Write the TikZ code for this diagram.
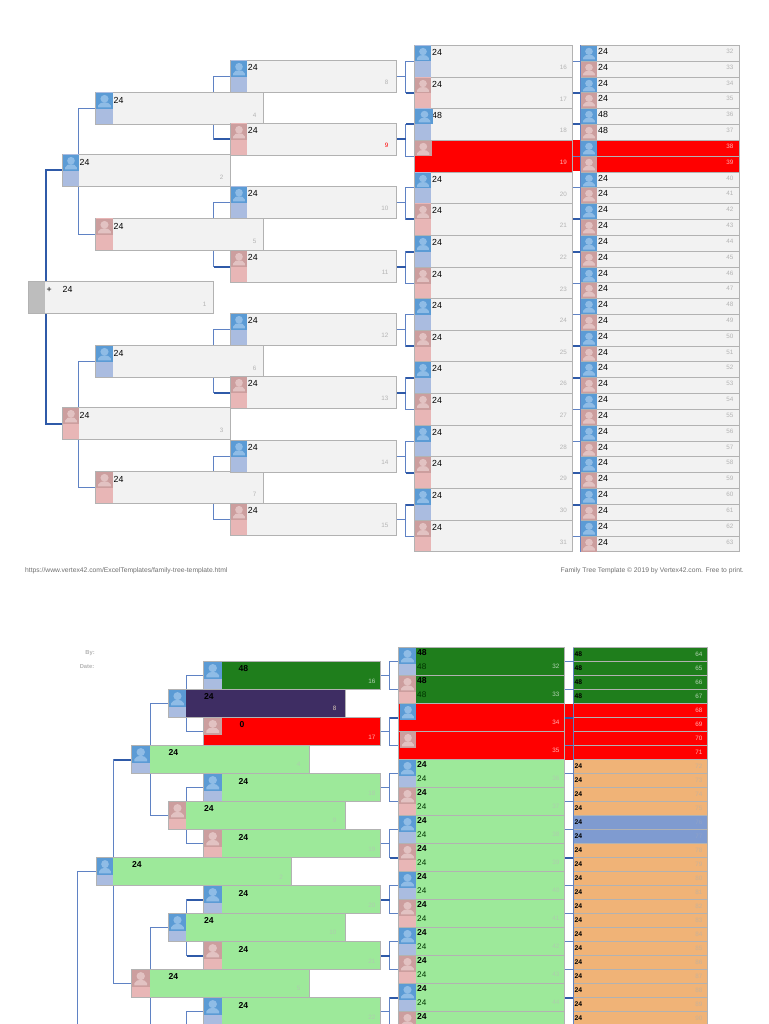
\documentclass[tikz,border=0pt]{standalone}
\usepackage{fontspec}
\setmainfont{Liberation Sans}
\usetikzlibrary{calc}
\pgfdeclarelayer{back}
\pgfsetlayers{back,main}
\definecolor{boxline}{HTML}{B2B2B2}
\definecolor{greypan}{HTML}{BDBDBD}
\definecolor{boxfill}{HTML}{F2F2F2}
\definecolor{mblue}{HTML}{5B9BD5}
\definecolor{mlite}{HTML}{8FBCE6}
\definecolor{mpanel}{HTML}{AABCE0}
\definecolor{fsq}{HTML}{CC9E9E}
\definecolor{flite}{HTML}{E2C2C2}
\definecolor{fpanel}{HTML}{E8B6B6}
\definecolor{lnthin}{HTML}{5F82C4}
\definecolor{lnthick}{HTML}{2F5AA8}
\definecolor{dgreen}{HTML}{1F7E1C}
\definecolor{lgreen}{HTML}{9DE99A}
\definecolor{purp}{HTML}{3E2D63}
\definecolor{orng}{HTML}{F0B377}
\definecolor{bluerow}{HTML}{7F9BD0}
\definecolor{numgrey}{HTML}{B4B4B4}
\definecolor{numgreen}{HTML}{B5D4B5}
\definecolor{numlg}{HTML}{AECDAE}
\definecolor{numred}{HTML}{FFB4B4}
\definecolor{numor}{HTML}{C9B298}
\definecolor{footg}{HTML}{707070}
\tikzset{
 pbx/.style={draw=boxline,line width=1pt,anchor=north west,inner sep=0pt,outer sep=0pt},
 conn/.style={draw=lnthin,line width=1pt},
 thk/.style={draw=lnthick,line width=2pt},
 namet/.style={anchor=west,inner sep=0pt,font=\fontsize{8.8}{9}\selectfont},
 nameb/.style={anchor=west,inner sep=0pt,font=\bfseries\fontsize{8.6}{9}\selectfont},
 namel/.style={anchor=west,inner sep=0pt,text=black!80!green,font=\fontsize{8.2}{9}\selectfont},
 names/.style={anchor=west,inner sep=0pt,font=\bfseries\fontsize{6.8}{7}\selectfont},
 numt/.style={anchor=east,inner sep=0pt,text=numgrey,font=\fontsize{6.3}{7}\selectfont},
 foot/.style={anchor=west,inner sep=0pt,text=footg,font=\fontsize{6.75}{7}\selectfont},
 hdr/.style={anchor=east,inner sep=0pt,text=numgrey,font=\bfseries\fontsize{5.8}{6}\selectfont},
}
\newcounter{lb}
\newcommand{\pbox}[6]{\pgfmathsetmacro\bw{#4-#2}\pgfmathsetmacro\bh{#5-#3}%
 \node[pbx,fill=#6,minimum width=\bw pt,minimum height=\bh pt] (#1) at (#2,#3) {};}
\newcommand{\pan}[5]{\fill[#5] (#1+0.5,#2) rectangle (#1+#3,#4);}
\newcommand{\avatar}[5]{\begin{scope}[shift={(#1,#2)},x=#3pt,y=-#4pt]
 \ifnum#5=0 \def\sqc{mblue}\def\lic{mlite}\else \def\sqc{fsq}\def\lic{flite}\fi
 \fill[\sqc] (0,0) rectangle (1,1);
 \fill[\lic] (0.5,0.36) circle [radius=0.24];
 \fill[\lic] (0.13,0.9) -- (0.13,0.78) .. controls (0.2,0.62) and (0.35,0.58) .. (0.5,0.58)
   .. controls (0.65,0.58) and (0.8,0.62) .. (0.87,0.78) -- (0.87,0.9) -- cycle;
 \end{scope}}
% name x1 y1 x2 y2 fill avw avh sex
\newcommand{\person}[9]{\pbox{#1}{#2}{#3}{#4}{#5}{#6}%
 \ifnum#9=0 \def\panc{mpanel}\else \def\panc{fpanel}\fi
 \pan{#2}{#3}{#7}{#5-0.5}{\panc}\avatar{#2+0.5}{#3+0.5}{#7-0.5}{#8}{#9}}
\newcommand{\lbl}[5]{\stepcounter{lb}\node[#4] (lb\arabic{lb}) at ($(#1.north west)+(#2,#3)$) {#5};}
\newcommand{\num}[5]{\stepcounter{lb}\node[numt,#4] (lb\arabic{lb}) at ($(#1.north east)+(-#2,#3)$) {#5};}
\begin{document}
\begin{tikzpicture}[x=1pt,y=-1pt]
\useasboundingbox (0,0) rectangle (768,1024);
\begin{pgfonlayer}{back}
\fill[white] (0,0) rectangle (768,1024);
\end{pgfonlayer}
\clip (0,0) rectangle (768,1024);

%%%%%%%%%%%%%% TOP TREE
% generation 1
\pbox{t1}{28.5}{281.5}{213.5}{313.5}{boxfill}
\fill[greypan] (29,282) rectangle (45,313);
\lbl{t1}{18}{8}{namet}{+}
\lbl{t1}{34}{8}{namet}{24}
\num{t1}{7}{23}{}{1}
% generation 2
\person{t2}{62.5}{154.5}{230.5}{186.5}{boxfill}{16.5}{16}{0}
\lbl{t2}{17}{8}{namet}{24}\num{t2}{7}{23}{}{2}
\person{t3}{62.5}{407.5}{230.5}{439.5}{boxfill}{16.5}{16}{1}
\lbl{t3}{17}{8}{namet}{24}\num{t3}{7}{23}{}{3}
% generation 3
\foreach \n/\yy/\sx in {4/92.5/0,5/218.5/1,6/345.5/0,7/471.5/1}{
 \pgfmathsetmacro\ye{\yy+32}
 \person{t\n}{95.5}{\yy}{263.5}{\ye}{boxfill}{17.5}{16}{\sx}
 \lbl{t\n}{18}{7.5}{namet}{24}\num{t\n}{7}{23}{}{\n}
}
% generation 4
\foreach \n/\yy/\sx in {8/60.5/0,9/123.5/1,10/186.5/0,11/250.5/1,12/313.5/0,13/376.5/1,14/440.5/0,15/503.5/1}{
 \pgfmathsetmacro\ye{\yy+32}
 \person{t\n}{230.5}{\yy}{396.5}{\ye}{boxfill}{16.5}{16}{\sx}
 \lbl{t\n}{17.2}{6.5}{namet}{24}
 \ifnum\n=9 \num{t\n}{8}{22}{text=red}{9}\else\num{t\n}{8}{22}{}{\n}\fi
}
% generation 5
\foreach \i in {0,...,15}{
 \pgfmathtruncatemacro\n{16+\i}\pgfmathsetmacro\yy{round(45+31.65*\i)+0.5}\pgfmathsetmacro\ye{round(45+31.65*(\i+1))+0.5}
 \pgfmathtruncatemacro\sx{mod(\n,2)}
 \ifnum\n=19
  \pbox{t\n}{414.5}{\yy}{572.5}{\ye}{red}\avatar{415}{141}{16.5}{15.5}{1}
  \num{t\n}{5.5}{22}{text=numred}{\n}
 \else
  \person{t\n}{414.5}{\yy}{572.5}{\ye}{boxfill}{16.5}{15.5}{\sx}
  \ifnum\n=18 \lbl{t\n}{17.5}{6.5}{namet}{48}\else\lbl{t\n}{17.5}{6.5}{namet}{24}\fi
  \num{t\n}{5.5}{22}{}{\n}
 \fi
}
\avatar{416.5}{109}{16}{15}{0}
% generation 6
\foreach \i in {0,...,31}{
 \pgfmathtruncatemacro\n{32+\i}\pgfmathsetmacro\yy{round(45+15.825*\i)+0.5}\pgfmathsetmacro\ye{round(45+15.825*(\i+1))+0.5}
 \pgfmathtruncatemacro\sx{mod(\n,2)}
 \ifnum\n=38 \def\fc{red}\else\ifnum\n=39 \def\fc{red}\else\def\fc{boxfill}\fi\fi
 \pbox{t\n}{580.5}{\yy}{739.5}{\ye}{\fc}
 \pgfmathsetmacro\ya{\yy+0.5}
 \avatar{581}{\ya}{16}{15}{\sx}
 \ifnum\n=38 \num{t\n}{6}{6}{text=numred}{\n}\else
 \ifnum\n=39 \num{t\n}{6}{6}{text=numred}{\n}\else
  \ifnum\n=36 \lbl{t\n}{17.5}{6}{namet}{48}\else
  \ifnum\n=37 \lbl{t\n}{17.5}{6}{namet}{48}\else
  \lbl{t\n}{17.5}{6}{namet}{24}\fi\fi
  \num{t\n}{6}{6}{}{\n}
 \fi\fi
}
% top gen6 spines on top of boxes
\foreach \n in {16,...,31}{
 \pgfmathtruncatemacro\ca{2*\n}\pgfmathtruncatemacro\cb{2*\n+1}
 \draw[conn] (t\ca.north west) -- (t\cb.south west);
}
\begin{pgfonlayer}{back}
\fill[red] (572,140) rectangle (581,171.5);
\foreach \n in {16,...,31}{
 \pgfmathtruncatemacro\ca{2*\n}
 \draw[conn] (t\n.east) -- (t\n.east -| t\ca.west);
}
\foreach \n in {8,...,15}{
 \pgfmathtruncatemacro\ca{2*\n}\pgfmathtruncatemacro\cb{2*\n+1}
 \draw[conn] (t\n.east) -- ++(9,0);
 \draw[conn] (t\ca.west) -- ++(-9,0) |- (t\cb.west);
}
\foreach \n in {4,...,7}{
 \pgfmathtruncatemacro\ca{2*\n}\pgfmathtruncatemacro\cb{2*\n+1}
 \draw[conn] (t\ca.west) -- ++(-17,0) |- (t\cb.west);
}
\foreach \n in {2,3}{
 \pgfmathtruncatemacro\ca{2*\n}\pgfmathtruncatemacro\cb{2*\n+1}
 \draw[conn] (t\ca.west) -- ++(-17,0) |- (t\cb.west);
}
\draw[thk] (t2.west) -- ++(-17,0) |- (t3.west);
\foreach \a in {t9,t11,t13}{\draw[thk] (\a.west) -- ++(-17,0);\draw[thk] (\a.east) -- ++(9,0);}
\foreach \a in {t17,t18,t21,t22,t25,t26,t29,t30}{\draw[thk] (\a.west) -- ++(-9,0);\draw[thk] (\a.east) -- ++(8,0);}
\end{pgfonlayer}
% footer
\node[foot] (urlfoot) at (25,570.5) {https://www.vertex42.com/ExcelTemplates/family-tree-template.html};
\node[foot,anchor=east] (copyfoot) at (744,570.5) {Family Tree Template © 2019 by Vertex42.com. Free to print.};

%%%%%%%%%%%%%% BOTTOM TREE
\node[hdr] (byl) at (95,653) {By:};
\node[hdr] (datel) at (94.5,667) {Date:};
% generation 2
\person{b2}{96.5}{857.5}{291.5}{885.5}{lgreen}{16.5}{17}{0}
\lbl{b2}{35.5}{7}{nameb}{24}\num{b2}{8.5}{20}{text=numlg}{2}
% generation 3
\person{b4}{131.5}{745.5}{309.5}{773.5}{lgreen}{18}{17}{0}
\lbl{b4}{37}{7}{nameb}{24}\num{b4}{9}{19}{text=numlg}{4}
\person{b5}{131.5}{969.5}{309.5}{997.5}{lgreen}{18}{17}{1}
\lbl{b5}{37}{7}{nameb}{24}\num{b5}{9}{19}{text=numlg}{5}
% generation 4
\person{b8}{168.5}{689.5}{345.5}{717.5}{purp}{17.5}{17}{0}
\lbl{b8}{35.5}{6.5}{nameb}{24}\num{b8}{9}{19}{text=numor!70!white}{8}
\person{b9}{168.5}{801.5}{345.5}{829.5}{lgreen}{17.5}{17}{1}
\lbl{b9}{35.5}{7}{nameb}{24}\num{b9}{9}{19}{text=numlg}{9}
\person{b10}{168.5}{913.5}{345.5}{941.5}{lgreen}{17.5}{17}{0}
\lbl{b10}{35.5}{7}{nameb}{24}\num{b10}{9}{19}{text=numlg}{10}
% generation 5
\person{b16}{203.5}{661.5}{380.5}{689.5}{dgreen}{18}{17}{0}
\lbl{b16}{35}{7}{nameb}{48}\num{b16}{5}{20}{text=numgreen}{16}
\pbox{b17}{203.5}{717.5}{380.5}{745.5}{red}\avatar{204}{718}{17.5}{16.5}{1}
\lbl{b17}{36}{7}{nameb}{0}\num{b17}{5}{20}{text=numred}{17}
\foreach \n/\yy/\sx in {18/773.5/0,19/829.5/1,20/885.5/0,21/941.5/1,22/997.5/0}{
 \pgfmathsetmacro\ye{\yy+28}
 \person{b\n}{203.5}{\yy}{380.5}{\ye}{lgreen}{18}{17}{\sx}
 \lbl{b\n}{35}{8}{nameb}{24}\num{b\n}{5}{20}{text=numlg}{\n}
}
% generation 6
\foreach \i in {0,...,13}{
 \pgfmathtruncatemacro\n{32+\i}\pgfmathsetmacro\yy{647.5+28*\i}\pgfmathsetmacro\ye{\yy+28}
 \pgfmathtruncatemacro\sx{mod(\n,2)}
 \ifnum\n<34
  \person{b\n}{398.5}{\yy}{564.5}{\ye}{dgreen}{17.5}{16}{\sx}
  \lbl{b\n}{18.5}{5}{nameb}{48}\lbl{b\n}{18.5}{19}{namel}{48}\num{b\n}{5}{19}{text=numgreen}{\n}
 \else\ifnum\n<36
  \pbox{b\n}{398.5}{\yy}{564.5}{\ye}{red}
  \pgfmathsetmacro\ya{\yy+0.5}\avatar{400}{\ya}{16}{16}{\sx}
  \num{b\n}{5}{19}{text=numred}{\n}
 \else
  \person{b\n}{398.5}{\yy}{564.5}{\ye}{lgreen}{17.5}{16}{\sx}
  \lbl{b\n}{18.5}{5}{nameb}{24}
  \ifnum\n<45 \lbl{b\n}{18.5}{19}{namel}{24}\num{b\n}{5}{19}{text=numlg}{\n}\fi
 \fi\fi
}
% generation 7
\foreach \i in {0,...,26}{
 \pgfmathtruncatemacro\n{64+\i}\pgfmathsetmacro\yy{647.5+14*\i}\pgfmathsetmacro\ye{\yy+14}
 \ifnum\n<68 \def\fc{dgreen}\def\nc{numgreen}\else
 \ifnum\n<72 \def\fc{red}\def\nc{numred}\else
 \ifnum\n=76 \def\fc{bluerow}\def\nc{bluerow!70!numgrey}\else
 \ifnum\n=77 \def\fc{bluerow}\def\nc{bluerow!70!numgrey}\else
 \def\fc{orng}\def\nc{numor}\fi\fi\fi\fi
 \pbox{b\n}{573.5}{\yy}{707.5}{\ye}{\fc}
 \ifnum\n<68 \lbl{b\n}{1}{6.5}{names}{48}\else
 \ifnum\n>71 \lbl{b\n}{1}{6.5}{names}{24}\fi\fi
 \num{b\n}{5}{6.5}{text=\nc}{\n}
}
\foreach \n in {32,...,44}{
 \pgfmathtruncatemacro\ca{2*\n}\pgfmathtruncatemacro\cb{2*\n+1}
 \draw[conn] (b\ca.north west) -- (b\cb.south west);
}
\draw[conn] (b90.north west) -- (b90.south west);
\coordinate (endA) at (77.5,1024);
\coordinate (endB) at (150.5,1024);
\coordinate (endC) at (186.5,1024);
\begin{pgfonlayer}{back}
\fill[red] (564,703.5) rectangle (574,759.5);
\foreach \n in {32,...,44}{
 \pgfmathtruncatemacro\ca{2*\n}
 \draw[conn] (b\n.east) -- (b\n.east -| b\ca.west);
}
\foreach \n in {16,...,21}{
 \pgfmathtruncatemacro\ca{2*\n}\pgfmathtruncatemacro\cb{2*\n+1}
 \draw[conn] (b\n.east) -- ++(9,0);
 \draw[conn] (b\ca.west) -- ++(-9,0) |- (b\cb.west);
}
\draw[conn] (b22.east) -- ++(9,0);
\draw[conn] (b44.west) -- ++(-9,0) |- (b45.west);
\foreach \n/\ca/\cb in {8/16/17,9/18/19,10/20/21}{
 \draw[conn] (b\ca.west) -- ++(-17,0) |- (b\cb.west);
}
\draw[conn] (b22.west) -- (b22.west -| endC) -- (endC);
\draw[conn] (b8.west) -- ++(-18,0) |- (b9.west);
\draw[conn] (b10.west) -- (b10.west -| endB) -- (endB);
\draw[conn] (b4.west) -- ++(-18,0) |- (b5.west);
\draw[conn] (b2.west) -- (b2.west -| endA) -- (endA);
\draw[thk] (b4.west) -- ++(-18,0);
\foreach \a in {b34,b39,b44}{\draw[thk] (\a.west) -- ++(-9,0);}
\foreach \a in {b34,b39,b44}{\draw[thk] (\a.east) -- (\a.east -| b64.west);}
\foreach \a in {b20,b21}{\draw[thk] (\a.west) -- ++(-17,0);\draw[thk] (\a.east) -- ++(9,0);}
\end{pgfonlayer}
\end{tikzpicture}
\end{document}
